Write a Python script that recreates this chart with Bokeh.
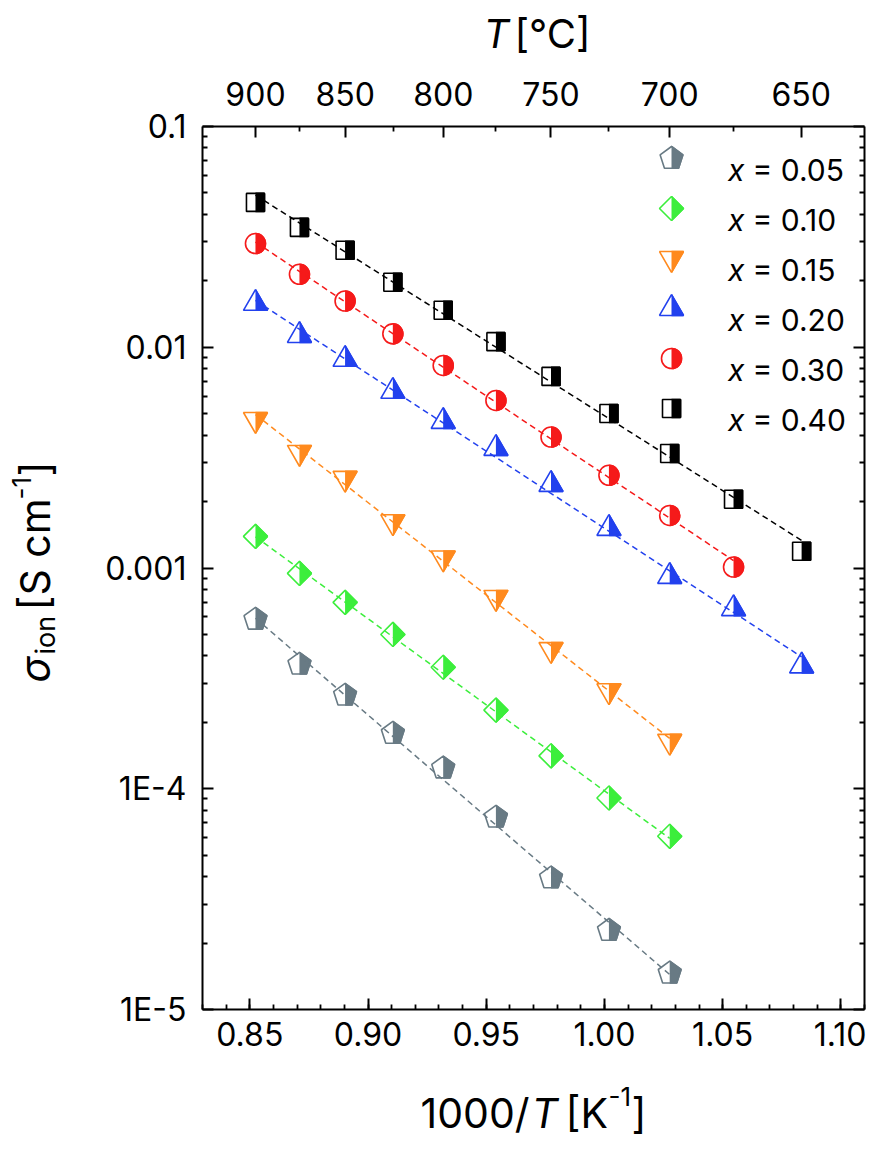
import numpy as np
from bokeh.plotting import figure
from bokeh.models import (Range1d, LinearScale, LinearAxis, LogAxis, FixedTicker, Grid,
                          CustomJSTickFormatter, PrintfTickFormatter, Label, ColumnDataSource)
from bokeh.embed import file_html
from bokeh.resources import INLINE

# ---------------- data ----------------
inv_T = [0.8524, 0.8710, 0.8903, 0.9105, 0.9318, 0.9541, 0.9774, 1.0019, 1.0276, 1.0546, 1.0834]

sigma_x005 = [5.85e-4, 3.66e-4, 2.65e-4, 1.78e-4, 1.24e-4, 7.42e-5, 3.94e-5, 2.28e-5, 1.46e-5]
sigma_x010 = [1.39e-3, 9.45e-4, 6.99e-4, 5.00e-4, 3.55e-4, 2.27e-4, 1.41e-4, 9.08e-5, 6.09e-5]
sigma_x015 = [4.71e-3, 3.34e-3, 2.55e-3, 1.62e-3, 1.11e-3, 7.36e-4, 4.27e-4, 2.78e-4, 1.64e-4]
sigma_x020 = [1.58e-2, 1.13e-2, 8.81e-3, 6.31e-3, 4.61e-3, 3.48e-3, 2.39e-3, 1.51e-3, 9.16e-4, 6.54e-4, 3.60e-4]
sigma_x030 = [2.95e-2, 2.14e-2, 1.62e-2, 1.15e-2, 8.27e-3, 5.74e-3, 3.92e-3, 2.63e-3, 1.73e-3, 1.01e-3]
sigma_x040 = [4.53e-2, 3.49e-2, 2.75e-2, 1.97e-2, 1.47e-2, 1.06e-2, 7.38e-3, 5.01e-3, 3.30e-3, 2.05e-3, 1.19e-3]

compositions = ["0.05", "0.10", "0.15", "0.20", "0.30", "0.40"]
series_values = [sigma_x005, sigma_x010, sigma_x015, sigma_x020, sigma_x030, sigma_x040]

x_ticks = [0.85, 0.90, 0.95, 1.00, 1.05, 1.10]
y_ticks = [1e-5, 1e-4, 1e-3, 1e-2, 1e-1]
y_tick_labels = ["1E-5", "1E-4", "0.001", "0.01", "0.1"]
top_ticks_C = [900, 850, 800, 750, 700, 650]
top_tick_labels = ["900", "850", "800", "750", "700", "650"]
top_minor_C = [875, 825, 775, 725, 675, 625]

X_LO, X_HI = 0.83, 1.11
Y_LO, Y_HI = 1e-5, 0.1

# ---------------- styles / layout ----------------
FONT = "Inter"
COLORS = ["#687a84", "#3cee3c", "#ff8a1e", "#2241ee", "#f51a1a", "#000000"]
KINDS = ["pentagon", "diamond", "inverted_triangle", "triangle", "circle", "square"]
MARKERS = {
    "square": dict(marker="square", size=18, angle=0.0, cover_len=11, cover_w=24),
    "circle": dict(marker="circle", size=20, angle=0.0, cover_len=12, cover_w=26),
    "triangle": dict(marker="triangle", size=24, angle=0.0, cover_len=14, cover_w=32),
    "inverted_triangle": dict(marker="inverted_triangle", size=24, angle=0.0, cover_len=14, cover_w=32),
    "diamond": dict(marker="square", size=17, angle=np.pi / 4, cover_len=14, cover_w=30),
    "pentagon": dict(radius=12, cover_len=14, cover_w=28),
}
LW = 1.6
PENT_ANGLE = 0.0

PAGE = 8
W, H = 866, 1142
# data box in page pixels
FL, FR, FT, FB = 210, 872, 134, 1017

px_per_x = (FR - FL) / (X_HI - X_LO)
x_start = X_LO - (FL - PAGE) / px_per_x
x_end = X_HI + (PAGE + W - FR) / px_per_x
px_per_dec = (FB - FT) / (np.log10(Y_HI) - np.log10(Y_LO))
y_end = 10 ** (np.log10(Y_HI) + (FT - PAGE) / px_per_dec)
y_start = 10 ** (np.log10(Y_LO) - (PAGE + H - FB) / px_per_dec)

p = figure(width=W, height=H, min_border=0, title=None,
           x_range=Range1d(x_start, x_end), y_range=Range1d(y_start, y_end),
           y_axis_type="log", x_axis_location=None, y_axis_location=None,
           output_backend="svg", toolbar_location=None)
p.center = [r for r in p.center if not isinstance(r, Grid)]
p.extra_x_ranges = {"px": Range1d(PAGE, PAGE + W)}
p.extra_y_ranges = {"px": Range1d(PAGE + H, PAGE)}
p.extra_y_scales = {"px": LinearScale()}
p.outline_line_color = None
p.background_fill_color = "white"
p.border_fill_color = "white"
PX = dict(x_range_name="px", y_range_name="px")


def style_axis(ax, standoff):
    ax.axis_line_width = 2
    ax.axis_line_color = "black"
    ax.major_tick_in = 11
    ax.major_tick_out = 0
    ax.minor_tick_in = 5
    ax.minor_tick_out = 0
    ax.major_tick_line_width = 2
    ax.minor_tick_line_width = 1.8
    ax.major_tick_line_color = "black"
    ax.minor_tick_line_color = "black"
    ax.major_label_text_font = FONT
    ax.major_label_text_font_size = "32px"
    ax.major_label_text_color = "black"
    ax.major_label_standoff = standoff
    ax.axis_label = None


x_minor = [round(v, 2) for v in np.arange(0.83, 1.115, 0.01)]
y_minor = [m * 10.0 ** e for e in range(-5, -1) for m in range(2, 10)]

xb = LinearAxis(fixed_location=Y_LO, bounds=(X_LO, X_HI),
                ticker=FixedTicker(ticks=x_ticks, minor_ticks=x_minor),
                formatter=PrintfTickFormatter(format="%.2f"))
style_axis(xb, 12)
p.add_layout(xb, "below")

yl = LogAxis(fixed_location=X_LO, bounds=(Y_LO, Y_HI),
             ticker=FixedTicker(ticks=y_ticks, minor_ticks=y_minor),
             formatter=CustomJSTickFormatter(args=dict(tvals=y_ticks, tlabels=y_tick_labels), code="""
    for (let i = 0; i < tvals.length; i++) {
        if (Math.abs(Math.log10(tvals[i]) - Math.log10(tick)) < 1e-6) return tlabels[i];
    }
    return "";
"""))
style_axis(yl, 16)
p.add_layout(yl, "left")

top_pos = [1000.0 / (c + 273.15) for c in top_ticks_C]
top_minor = [1000.0 / (c + 273.15) for c in top_minor_C]
xt = LinearAxis(fixed_location=Y_HI, bounds=(X_LO, X_HI),
                ticker=FixedTicker(ticks=top_pos, minor_ticks=top_minor),
                formatter=CustomJSTickFormatter(args=dict(tvals=top_pos, tlabels=top_tick_labels), code="""
    for (let i = 0; i < tvals.length; i++) {
        if (Math.abs(tvals[i] - tick) < 1e-9) return tlabels[i];
    }
    return "";
"""))
style_axis(xt, 21)
p.add_layout(xt, "above")

yr = LogAxis(fixed_location=X_HI, bounds=(Y_LO, Y_HI),
             ticker=FixedTicker(ticks=y_ticks, minor_ticks=y_minor),
             formatter=CustomJSTickFormatter(code="return '';"))
style_axis(yr, 0)
p.add_layout(yr, "right")


def add_markers(src, kind, color, rk):
    m = MARKERS[kind]

    def shape(fill):
        if kind == "pentagon":
            try:
                return p.ngon(x="x", y="y", radius=m["radius"], radius_units="screen", n=5,
                              angle=PENT_ANGLE, fill_color=fill, line_color=color,
                              line_width=LW, source=src, **rk)
            except Exception:
                return p.scatter(x="x", y="y", marker="hex", size=22, fill_color=fill,
                                 line_color=color, line_width=LW, source=src, **rk)
        return p.scatter(x="x", y="y", marker=m["marker"], size=m["size"], angle=m["angle"],
                         fill_color=fill, line_color=color, line_width=LW, source=src, **rk)

    shape(color)
    p.ray(x="x", y="y", length=m["cover_len"], length_units="screen", angle=np.pi,
          line_width=m["cover_w"], line_color="white", line_cap="butt", source=src, **rk)
    shape(None)


# data markers
for vals, kind, color in zip(series_values, KINDS, COLORS):
    src = ColumnDataSource(dict(x=inv_T[:len(vals)], y=vals))
    add_markers(src, kind, color, {})

# fitted Arrhenius lines (dashed), drawn on top
for vals, color in zip(series_values, COLORS):
    xs = np.array(inv_T[:len(vals)])
    b, a = np.polyfit(xs, np.log10(vals), 1)
    xe = [float(xs[0]), float(xs[-1])]
    ye = [float(10 ** (a + b * xe[0])), float(10 ** (a + b * xe[1]))]
    p.line(xe, ye, line_color=color, line_width=1.5, line_dash="6 4")

# legend (page-pixel layout)
LEG_MX, LEG_Y0, LEG_DY = 679, 166, 50
for i, (comp, kind, color) in enumerate(zip(compositions, KINDS, COLORS)):
    ry = LEG_Y0 + LEG_DY * i
    src = ColumnDataSource(dict(x=[LEG_MX], y=[ry]))
    add_markers(src, kind, color, PX)
    p.add_layout(Label(x=752, y=ry + 11, text="x", text_align="right",
                       text_baseline="alphabetic", text_font=FONT, text_font_style="italic",
                       text_font_size="30px", text_color="black", **PX))
    p.add_layout(Label(x=760, y=ry + 11, text="= " + comp, text_align="left",
                       text_baseline="alphabetic", text_font=FONT,
                       text_font_size="30px", text_color="black", **PX))


def add_text(text, px, py, size, italic=False, angle=0.0):
    p.add_layout(Label(x=px, y=py, text=text, text_align="left",
                       text_baseline="alphabetic", text_font=FONT,
                       text_font_style="italic" if italic else "normal",
                       text_font_size=f"{size}px", text_color="black", angle=angle, **PX))


# top title: T [°C]
TT = 41
add_text("T", 491, TT, 40, italic=True)
add_text("[°C]", 522, TT, 40)

# bottom title: 1000/T [K^-1]
BT = 1120
add_text("1000/", 428, BT, 41)
add_text("T", 539, BT, 41, italic=True)
add_text("[K", 573, BT, 41)
add_text("-1", 616, BT - 16, 26)
add_text("]", 639, BT, 41)

# left title: sigma_ion [S cm^-1], rotated
R = np.pi / 2
LB = 42
add_text("σ", LB, 690, 41, italic=True, angle=R)
add_text("ion", LB + 11, 662, 27, angle=R)
add_text("[S cm", LB, 618, 41, angle=R)
add_text("-1", LB - 13, 507, 26, angle=R)
add_text("]", LB, 484, 41, angle=R)

open("out.html", "w").write(file_html(p, INLINE))
